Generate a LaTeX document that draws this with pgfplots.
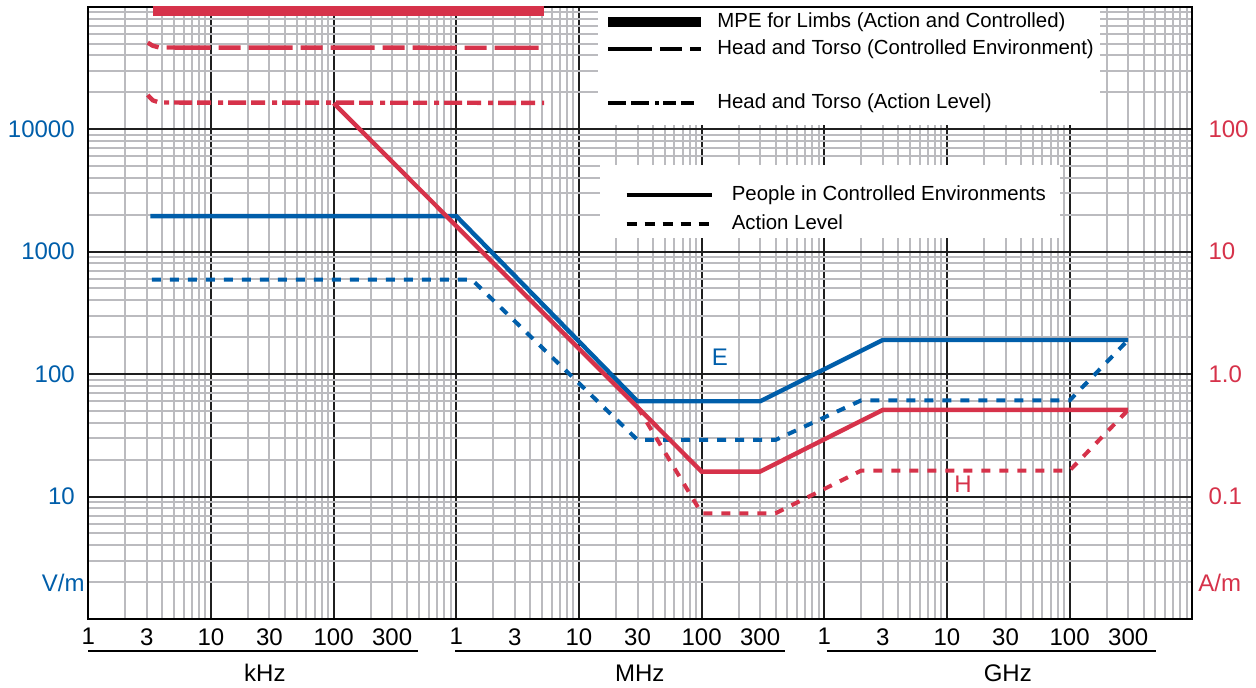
\documentclass[border=0pt]{standalone}
\usepackage{pgfplots}
\pgfplotsset{compat=1.18}
\usepackage{fontspec}
\setmainfont{Liberation Sans}
\definecolor{eblue}{HTML}{005EAA}
\definecolor{hred}{HTML}{D6324A}
\definecolor{gridgray}{HTML}{BBBBBF}

\begin{document}
\begin{tikzpicture}
% E field (V/m), grid, lower legend
\begin{axis}[
  scale only axis, width=552pt, height=306.15pt,
  at={(0,0)}, anchor=south west,
  xmode=log, ymode=log, xmin=1e3, xmax=1e12, ymin=1, ymax=1e5,
  clip=false,
  major tick length=0pt, minor tick length=0pt,
  ticklabel style={font=\fontsize{12}{14}\selectfont},
  axis line style={line width=1pt, black},
  legend cell align=left,
  xtick={1e3,1e4,1e5,1e6,1e7,1e8,1e9,1e10,1e11,1e12},
  xticklabels={1,10,100,1,10,100,1,10,100,{}},
  extra x ticks={3e3,3e4,3e5,3e6,3e7,3e8,3e9,3e10,3e11},
  extra x tick labels={3,30,300,3,30,300,3,30,300},
  extra x tick style={grid=none},
  minor xtick={2e3,3e3,4e3,5e3,6e3,7e3,8e3,9e3,2e4,3e4,4e4,5e4,6e4,7e4,8e4,9e4,2e5,3e5,4e5,5e5,6e5,7e5,8e5,9e5,2e6,3e6,4e6,5e6,6e6,7e6,8e6,9e6,2e7,3e7,4e7,5e7,6e7,7e7,8e7,9e7,2e8,3e8,4e8,5e8,6e8,7e8,8e8,9e8,2e9,3e9,4e9,5e9,6e9,7e9,8e9,9e9,2e10,3e10,4e10,5e10,6e10,7e10,8e10,9e10,2e11,3e11,4e11,5e11,6e11,7e11,8e11,9e11},
  ytick={1,10,100,1000,10000,100000},
  yticklabels={{},10,100,1000,10000,{}},
  minor ytick={2,3,4,5,6,7,8,9,20,30,40,50,60,70,80,90,200,300,400,500,600,700,800,900,2e3,3e3,4e3,5e3,6e3,7e3,8e3,9e3,2e4,3e4,4e4,5e4,6e4,7e4,8e4,9e4},
  grid=both,
  major grid style={line width=1pt, black!88},
  minor grid style={line width=1pt, gridgray},
  xticklabel style={inner sep=0pt, yshift=-4.5pt},
  yticklabel style={inner sep=0pt, xshift=-6.6pt, text=eblue},
  legend style={at={(axis description cs:0.4853,0.7083)}, anchor=north west,
    draw=none, fill=none, inner sep=0pt, row sep=5pt, column sep=9pt,
    font=\fontsize{10.2}{12}\selectfont,
    nodes={inner sep=0pt, text height=7.5pt, text depth=2pt}},
  legend image code/.code={\draw[#1] (0pt,0pt) -- (42.5pt,0pt);},
]
\addplot[eblue, line width=2.2pt, forget plot] coordinates {
 (3.2e3,1950) (1e6,1950) (3e7,60) (3e8,60) (3e9,190) (3e11,190)};
\addplot[eblue, line width=2pt, dash pattern=on 4.5pt off 4.5pt, forget plot] coordinates {
 (3.3e3,590) (1.34e6,590) (3e7,29) (4e8,29) (2e9,61) (1e11,61) (3e11,190)};

\fill[white] (axis description cs:0.4617,0.8068) rectangle (axis description cs:0.9164,0.9975);
\fill[white] (axis description cs:0.4634,0.6222) rectangle (axis description cs:0.8801,0.7415);

\addlegendimage{black, line width=2.2pt}
\addlegendentry{People in Controlled Environments}
\addlegendimage{black, line width=2.2pt, dash pattern=on 5pt off 4pt}
\addlegendentry{Action Level}

\node[text=eblue, font=\fontsize{12}{14}\selectfont] at (axis cs:1.41e8,137) {E};
\node[text=hred, font=\fontsize{12}{14}\selectfont] at (axis cs:1.35e10,12.6) {H};
\node[anchor=east, inner sep=0pt, text=eblue, font=\fontsize{12}{14}\selectfont]
  at (axis description cs:-0.003,0.0588) {V/m};

\draw[line width=1pt] (axis cs:1e3,0.549) -- (axis cs:4.86e5,0.549);
\draw[line width=1pt] (axis cs:9.76e5,0.549) -- (axis cs:4.77e8,0.549);
\draw[line width=1pt] (axis cs:1.05e9,0.549) -- (axis cs:5.1e11,0.549);
\node[font=\fontsize{12}{14}\selectfont] at (axis cs:2.75e4,0.362) {kHz};
\node[font=\fontsize{12}{14}\selectfont] at (axis cs:3.13e7,0.362) {MHz};
\node[font=\fontsize{12}{14}\selectfont] at (axis cs:3.13e10,0.362) {GHz};
\end{axis}

% H field (A/m), right axis, upper legend
\begin{axis}[
  scale only axis, width=552pt, height=306.15pt,
  at={(0,0)}, anchor=south west,
  xmode=log, ymode=log, xmin=1e3, xmax=1e12, ymin=0.01, ymax=1000,
  clip=false,
  major tick length=0pt, minor tick length=0pt,
  ticklabel style={font=\fontsize{12}{14}\selectfont},
  axis line style={line width=1pt, black},
  legend cell align=left,
  hide x axis, axis y line*=right,
  ytick={0.1,1,10,100}, yticklabels={0.1,1.0,10,100},
  yticklabel style={inner sep=0pt, xshift=7.9pt, text=hred},
  legend style={at={(axis description cs:0.4662,0.9909)}, anchor=north west,
    draw=none, fill=none, inner sep=0pt, row sep=4pt, column sep=5.5pt,
    font=\fontsize{10.2}{12}\selectfont,
    nodes={inner sep=0pt, text height=7.5pt, text depth=2pt}},
  legend image code/.code={\draw[#1] (0pt,0pt) -- (46.5pt,0pt);},
]
\addplot[hred, line width=5pt, forget plot] coordinates {(3.35e3,920) (5.2e6,920)};
\addplot[hred, line width=2.2pt, dash pattern=on 22pt off 4pt on 11pt off 4pt, dash phase=31pt, forget plot] coordinates {
 (3.05e3,509) (3.35e3,480) (3.8e3,464) (5.2e6,462)};
\addplot[hred, line width=2.2pt, dash pattern=on 2.5pt off 2.5pt on 9pt off 2.5pt on 7pt off 3.5pt, dash phase=17.5pt, forget plot] coordinates {
 (3.05e3,190) (3.35e3,172) (3.8e3,165) (5.2e6,164)};
\addplot[hred, line width=2.2pt, forget plot] coordinates {
 (1e5,163) (1e8,0.16) (3e8,0.16) (3e9,0.51) (3e11,0.51)};
\addplot[hred, line width=2pt, dash pattern=on 4.5pt off 4.5pt, forget plot] coordinates {
 (3e7,0.54) (1e8,0.073) (4e8,0.073) (2e9,0.163) (1e11,0.163) (3e11,0.51)};

\addlegendimage{black, line width=5pt}
\addlegendentry{MPE for Limbs (Action and Controlled)}
\addlegendimage{black, line width=2.2pt, dash pattern=on 22pt off 4pt on 11pt off 4pt}
\addlegendentry{Head and Torso (Controlled Environment)}
\addlegendimage{empty legend}
\addlegendentry{}
\addlegendimage{black, line width=2.2pt, dash pattern=on 9pt off 2.5pt on 9pt off 3pt on 2pt off 2pt on 6.5pt off 2.5pt on 6.5pt off 5pt}
\addlegendentry{Head and Torso (Action Level)}

\node[anchor=west, inner sep=0pt, text=hred, font=\fontsize{12}{14}\selectfont]
  at (axis description cs:1.0052,0.0588) {A/m};
\end{axis}
\pgfresetboundingbox
\path[use as bounding box] (-44.15pt,-34pt) rectangle (583.85pt,309.5pt);
\end{tikzpicture}
\end{document}
